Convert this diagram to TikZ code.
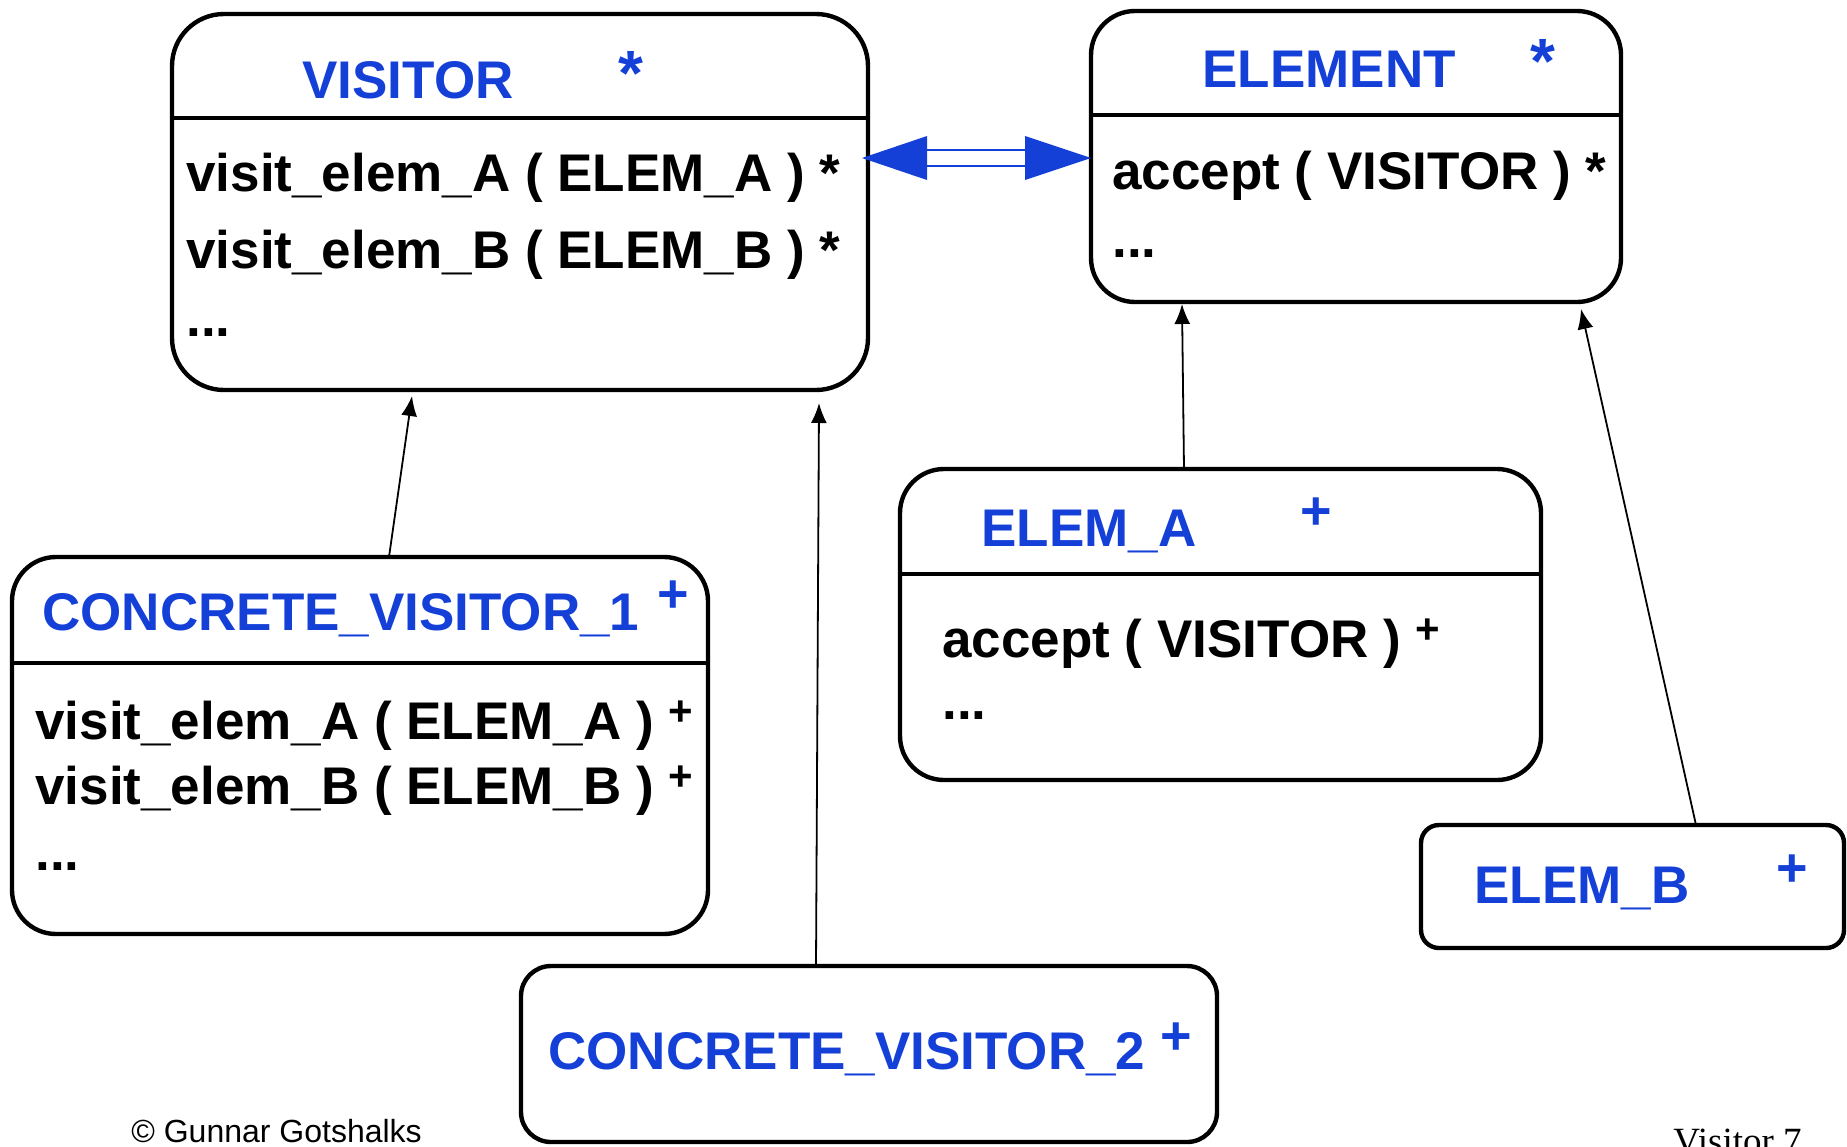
\documentclass[tikz,border=0pt]{standalone}
\usepackage{fontspec}
\setmainfont{Liberation Sans}
\newfontfamily\serifft{Liberation Serif}
\usetikzlibrary{arrows.meta}
\definecolor{umlblue}{RGB}{20,64,216}
\begin{document}
\begin{tikzpicture}[x=0.5pt,y=-0.5pt,
  umlbox/.style={draw, line width=2.2pt, rounded corners=#1, inner sep=0pt, outer sep=0pt},
  divider/.style={line width=2.2pt},
  titletext/.style={anchor=base west, inner sep=0pt, text=umlblue, font=\fontsize{26.5}{30}\selectfont\bfseries},
  tagtext/.style={anchor=base, inner sep=0pt, text=umlblue, font=\fontsize{27}{30}\selectfont\bfseries},
  startext/.style={anchor=base, inner sep=0pt, text=umlblue, font=\fontsize{32}{34}\selectfont\bfseries},
  methtext/.style={anchor=base west, inner sep=0pt, font=\fontsize{26.5}{30}\selectfont\bfseries},
  inh/.style={line width=0.9pt, -{Latex[length=10pt,width=8pt]}},
  assoc/.style={umlblue, line width=1pt},
  assochead/.style={fill=umlblue, draw=none},
]
\useasboundingbox (0,0) rectangle (1847,1146);
\clip (0,0) rectangle (1847,1146);
\newcommand{\pl}{\raisebox{7pt}{\fontsize{21}{21}\selectfont +}}

% boxes
\node[umlbox=26pt, minimum width=348pt, minimum height=188pt] (visitor) at (520,202) {};
\node[umlbox=22pt, minimum width=265pt, minimum height=145.5pt] (element) at (1356,156.5) {};
\node[umlbox=22pt, minimum width=348pt, minimum height=188.5pt] (cv1) at (360,745.5) {};
\node[umlbox=15pt, minimum width=348pt, minimum height=88pt] (cv2) at (869,1054) {};
\node[umlbox=22pt, minimum width=320.5pt, minimum height=155.5pt] (elema) at (1220.5,624.5) {};
\node[umlbox=9pt, minimum width=211.5pt, minimum height=61.5pt] (elemb) at (1632.5,886.5) {};

% dividers
\draw[divider] (visitor.west |- 0,118) -- (visitor.east |- 0,118);
\draw[divider] (element.west |- 0,115) -- (element.east |- 0,115);
\draw[divider] (cv1.west |- 0,663) -- (cv1.east |- 0,663);
\draw[divider] (elema.west |- 0,574) -- ([xshift=1pt]elema.east |- 0,574);

% VISITOR
\node[titletext] (tv) at (302,98) {VISITOR};
\node[startext] (sv) at (631,95) {*};
\node[methtext] (mv1) at (186,191) {visit\_elem\_A ( ELEM\_A ) *};
\node[methtext] (mv2) at (186,268) {visit\_elem\_B ( ELEM\_B ) *};
\node[methtext] (mv3) at (186,336) {...};

% ELEMENT
\node[titletext] (te) at (1202,87) {ELEMENT};
\node[startext] (se) at (1543,83) {*};
\node[methtext] (me1) at (1112,189) {accept ( VISITOR ) *};
\node[methtext] (me2) at (1112,257) {...};

% CONCRETE_VISITOR_1
\node[titletext] (tc1) at (42,630) {CONCRETE\_VISITOR\_1};
\node[tagtext] (sc1) at (673,612) {+};
\node[methtext] (mc1) at (35,739) {visit\_elem\_A ( ELEM\_A ) \pl};
\node[methtext] (mc2) at (35,804) {visit\_elem\_B ( ELEM\_B ) \pl};
\node[methtext] (mc3) at (35,870) {...};

% CONCRETE_VISITOR_2
\node[titletext] (tc2) at (548,1069) {CONCRETE\_VISITOR\_2};
\node[tagtext] (sc2) at (1176,1054) {+};

% ELEM_A
\node[titletext] (ta) at (981,546) {ELEM\_A};
\node[tagtext] (sa) at (1316,529) {+};
\node[methtext] (ma1) at (942,657) {accept ( VISITOR ) \pl};
\node[methtext] (ma2) at (942,719) {...};

% ELEM_B
\node[titletext] (tb) at (1474,903) {ELEM\_B};
\node[tagtext] (sb) at (1792,886) {+};

% inheritance arrows
\draw[inh] ([xshift=188.5pt]cv1.north west) -- ([xshift=120pt,yshift=-3pt]visitor.south west);
\draw[inh] ([xshift=147.5pt]cv2.north west) -- ([xshift=323.5pt,yshift=-6.5pt]visitor.south west);
\draw[inh] ([xshift=142pt]elema.north west) -- ([xshift=45.5pt,yshift=-1pt]element.south west);
\draw[inh] ([xshift=137.5pt]elemb.north west) -- ([xshift=245pt,yshift=-3.5pt]element.south west);

% double association arrow
\coordinate (dl) at ([xshift=-3pt]visitor.east |- 0,158);
\coordinate (dr) at (element.west |- 0,158);
\fill[assochead] (dl) -- ++(65,-22) -- ++(0,44) -- cycle;
\fill[assochead] (dr) -- ++(-66,-22) -- ++(0,44) -- cycle;
\draw[assoc] ([shift={(64,-8)}]dl) -- ([shift={(-65,-8)}]dr);
\draw[assoc] ([shift={(64,8)}]dl) -- ([shift={(-65,8)}]dr);

% footer
\node[anchor=base west, inner sep=0pt, font=\fontsize{16}{18}\selectfont] (copy) at (131,1142) {© Gunnar Gotshalks};
\node[anchor=base west, inner sep=0pt, font=\serifft\fontsize{18.5}{20}\selectfont] (page) at (1673,1153) {Visitor 7};
\end{tikzpicture}
\end{document}
